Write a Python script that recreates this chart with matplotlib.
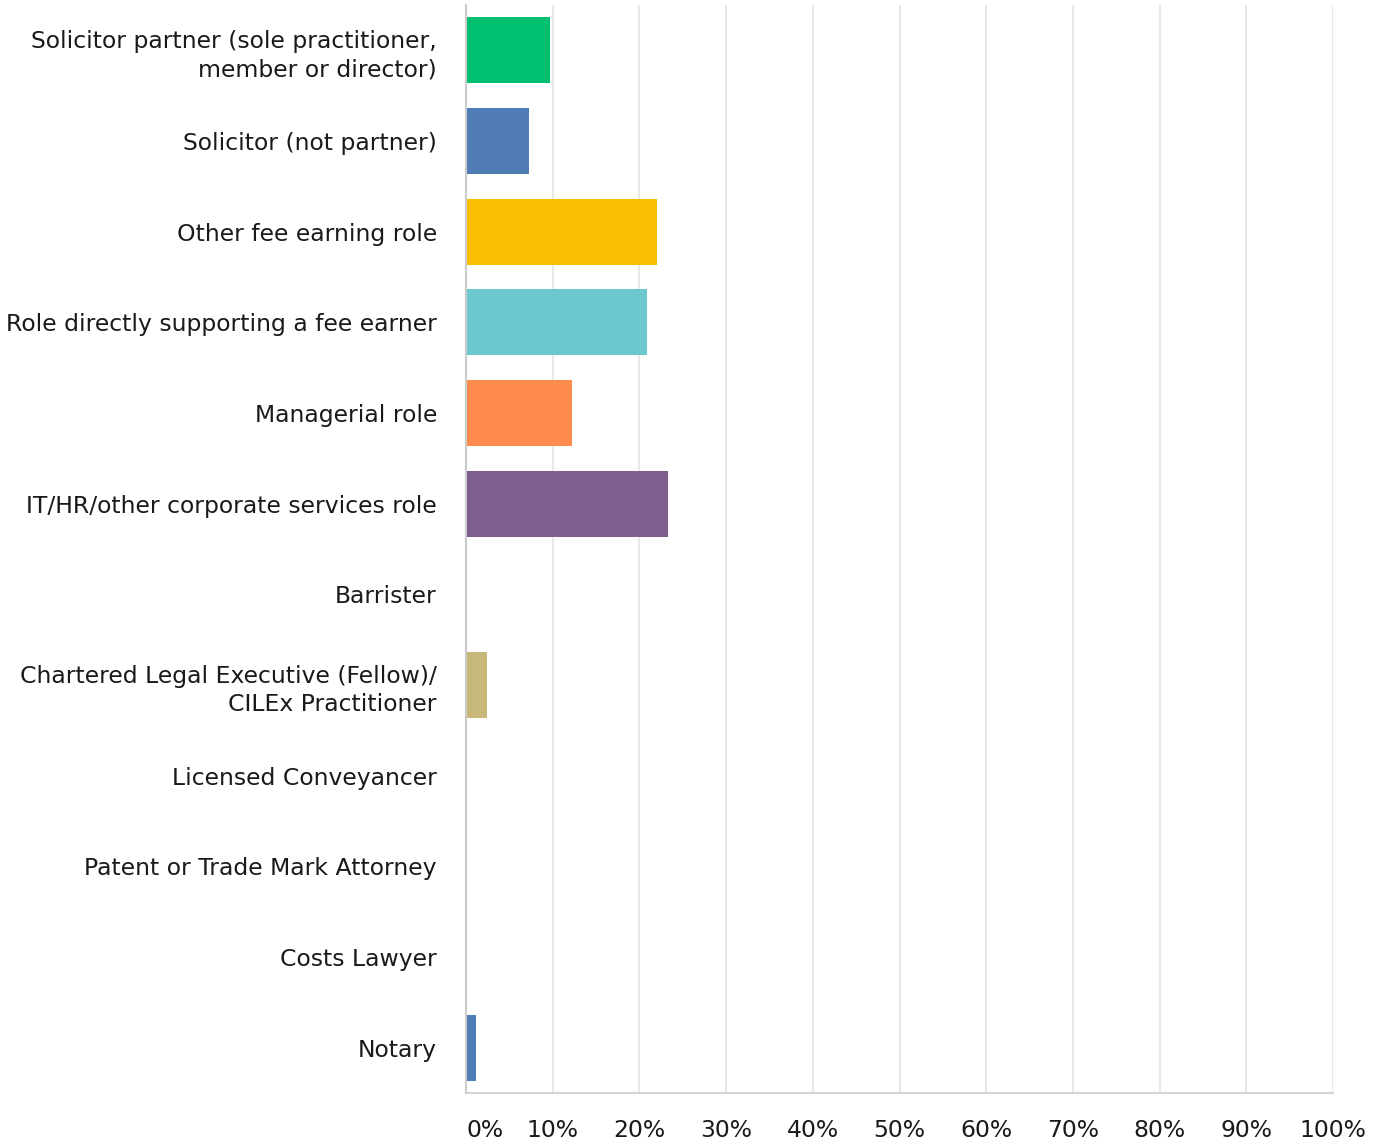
import matplotlib.pyplot as plt
import numpy as np

categories = [
    "Solicitor partner (sole practitioner,\nmember or director)",
    "Solicitor (not partner)",
    "Other fee earning role",
    "Role directly supporting a fee earner",
    "Managerial role",
    "IT/HR/other corporate services role",
    "Barrister",
    "Chartered Legal Executive (Fellow)/\nCILEx Practitioner",
    "Licensed Conveyancer",
    "Patent or Trade Mark Attorney",
    "Costs Lawyer",
    "Notary",
]
values = [9.7, 7.3, 22.0, 20.9, 12.2, 23.3, 0, 2.4, 0, 0, 0, 1.2]
colors = ["#00BF6F", "#507CB6", "#F9BE00", "#6BC8CD", "#FF8B4F", "#7D5E8D",
          "#507CB6", "#C8B879", "#507CB6", "#507CB6", "#507CB6", "#507CB6"]
ticks = np.arange(0, 101, 10)
tick_labels = ["{0:d}%".format(t) for t in ticks]

plt.rcParams['font.family'] = ['DejaVu Sans']

fig = plt.figure(figsize=(13.9, 11.45), dpi=100)
ax = fig.add_axes([0.3353, 0.0454, 0.959 - 0.3353, 0.9956 - 0.0454])

y = np.arange(len(categories))
ax.barh(y, values, height=0.73, color=colors, zorder=3)

ax.set_xlim(0, 100)
ax.set_ylim(len(categories) - 0.5, -0.5)
ax.set_xticks(ticks)
ax.set_xticklabels(tick_labels, fontsize=16.9, color="#1A1A1A")
ax.get_xticklabels()[0].set_horizontalalignment('left')
ax.set_yticks(y)
ax.set_yticklabels(categories, fontsize=16.9, color="#1A1A1A", linespacing=1.3)

ax.tick_params(axis='x', length=0, pad=19)
ax.tick_params(axis='y', length=0, pad=21)
ax.grid(axis='x', color="#E8E8E8", linewidth=1.5, zorder=0)

for s in ['top', 'right']:
    ax.spines[s].set_visible(False)
ax.spines['left'].set_color("#CCCCCC")
ax.spines['left'].set_linewidth(1.5)
ax.spines['left'].set_zorder(4)
ax.spines['bottom'].set_color("#D5D5D5")
ax.spines['bottom'].set_linewidth(1.5)

fig.savefig("out.png", dpi=100)
